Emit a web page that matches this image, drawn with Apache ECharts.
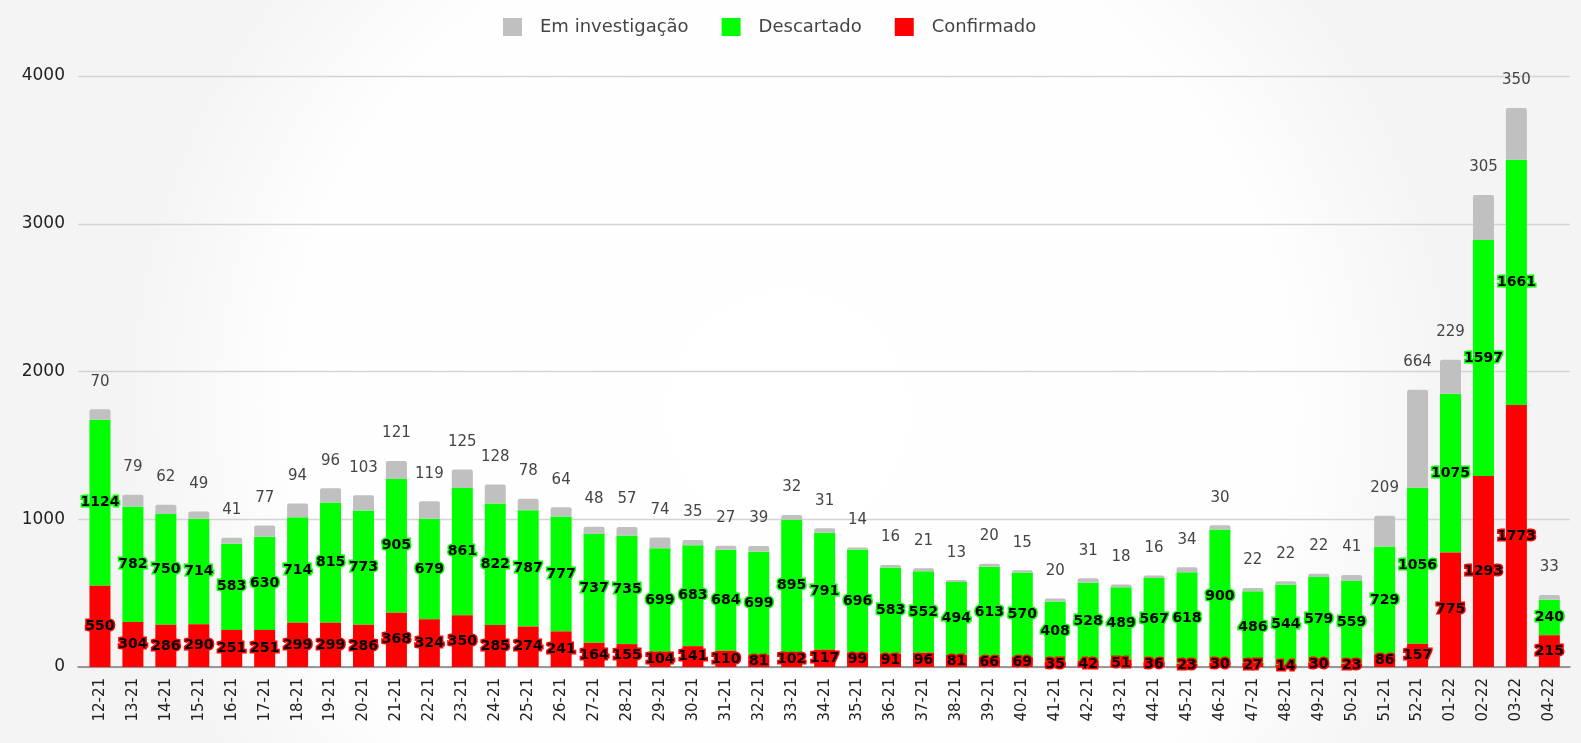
<!DOCTYPE html>
<html>
<head>
<meta charset="utf-8">
<script src="https://cdn.jsdelivr.net/npm/echarts@6/dist/echarts.min.js"></script>
<style>
  html, body { margin: 0; padding: 0; background: #fff; }
  #chart { width: 1581px; height: 743px; }
</style>
</head>
<body>
<div id="chart"></div>
<script>
const categories = ['12-21','13-21','14-21','15-21','16-21','17-21','18-21','19-21','20-21','21-21',
  '22-21','23-21','24-21','25-21','26-21','27-21','28-21','29-21','30-21','31-21',
  '32-21','33-21','34-21','35-21','36-21','37-21','38-21','39-21','40-21','41-21',
  '42-21','43-21','44-21','45-21','46-21','47-21','48-21','49-21','50-21','51-21',
  '52-21','01-22','02-22','03-22','04-22'];

const confirmado = [550,304,286,290,251,251,299,299,286,368,
  324,350,285,274,241,164,155,104,141,110,
  81,102,117,99,91,96,81,66,69,35,
  42,51,36,23,30,27,14,30,23,86,
  157,775,1293,1773,215];

const descartado = [1124,782,750,714,583,630,714,815,773,905,
  679,861,822,787,777,737,735,699,683,684,
  699,895,791,696,583,552,494,613,570,408,
  528,489,567,618,900,486,544,579,559,729,
  1056,1075,1597,1661,240];

const emInvestigacao = [70,79,62,49,41,77,94,96,103,121,
  119,125,128,78,64,48,57,74,35,27,
  39,32,31,14,16,21,13,20,15,20,
  31,18,16,34,30,22,22,22,41,209,
  664,229,305,350,33];

const yTicks = [0, 1000, 2000, 3000, 4000];

const FONT = 'DejaVu Sans';
const chart = echarts.init(document.getElementById('chart'), null, { renderer: 'canvas' });

const insideLabel = (color) => ({
  show: true,
  position: 'inside',
  fontFamily: FONT,
  fontSize: 14,
  fontWeight: 'bold',
  color: '#000',
  textBorderColor: color,
  textBorderWidth: 3
});

chart.setOption({
  animation: false,
  backgroundColor: {
    type: 'radial', x: 0.5, y: 0.55, r: 0.9,
    colorStops: [
      { offset: 0, color: '#ffffff' },
      { offset: 0.75, color: '#fefefe' },
      { offset: 1, color: '#f4f4f4' }
    ]
  },
  legend: {
    data: ['Em investigação', 'Descartado', 'Confirmado'],
    left: 498,
    top: 13,
    itemWidth: 19,
    itemHeight: 18,
    itemGap: 33,
    icon: 'rect',
    textStyle: {
      fontFamily: FONT,
      fontSize: 18,
      color: '#444',
      padding: [0, 0, 0, 13]
    }
  },
  grid: [
    { left: 83.5, right: 15.2, top: 76, bottom: 76 },
    { left: 78, right: 11, top: 76, bottom: 76 }
  ],
  xAxis: [
    {
      type: 'category',
      gridIndex: 0,
      data: categories,
      axisLine: { show: false },
      axisTick: { show: false },
      axisLabel: {
        rotate: 90,
        interval: 0,
        margin: 11,
        fontFamily: FONT,
        fontSize: 15,
        color: '#222'
      }
    },
    {
      type: 'category',
      gridIndex: 1,
      data: [''],
      axisLine: { show: true, lineStyle: { color: '#808080', width: 1.5 } },
      axisTick: { show: false },
      axisLabel: { show: false }
    }
  ],
  yAxis: [
    {
      type: 'value',
      gridIndex: 0,
      min: yTicks[0],
      max: yTicks[yTicks.length - 1],
      interval: 1000,
      show: false,
      splitLine: { show: false }
    },
    {
      type: 'value',
      gridIndex: 1,
      min: yTicks[0],
      max: yTicks[yTicks.length - 1],
      interval: 1000,
      axisLine: { show: false },
      axisTick: { show: false },
      axisLabel: {
        margin: 13,
        fontFamily: FONT,
        fontSize: 17,
        color: '#222',
        formatter: (v) => String(v)
      },
      splitLine: { show: true, lineStyle: { color: '#d4d4d4', width: 1.3 } }
    }
  ],
  series: [
    {
      name: 'Confirmado',
      type: 'bar',
      stack: 'total',
      xAxisIndex: 0, yAxisIndex: 0,
      barWidth: 21,
      data: confirmado,
      itemStyle: { color: '#ff0000' },
      label: insideLabel('#ff0000'),
      z: 3
    },
    {
      name: 'Descartado',
      type: 'bar',
      stack: 'total',
      xAxisIndex: 0, yAxisIndex: 0,
      barWidth: 21,
      data: descartado,
      itemStyle: { color: '#00ff00' },
      label: insideLabel('#00ff00'),
      z: 2
    },
    {
      name: 'Em investigação',
      type: 'bar',
      stack: 'total',
      xAxisIndex: 0, yAxisIndex: 0,
      barWidth: 21,
      data: emInvestigacao,
      itemStyle: { color: '#c0c0c0', borderRadius: [2, 2, 0, 0] },
      label: {
        show: true,
        position: 'top',
        distance: 20,
        fontFamily: FONT,
        fontSize: 15,
        color: '#444'
      },
      z: 2
    }
  ]
});
</script>
</body>
</html>
